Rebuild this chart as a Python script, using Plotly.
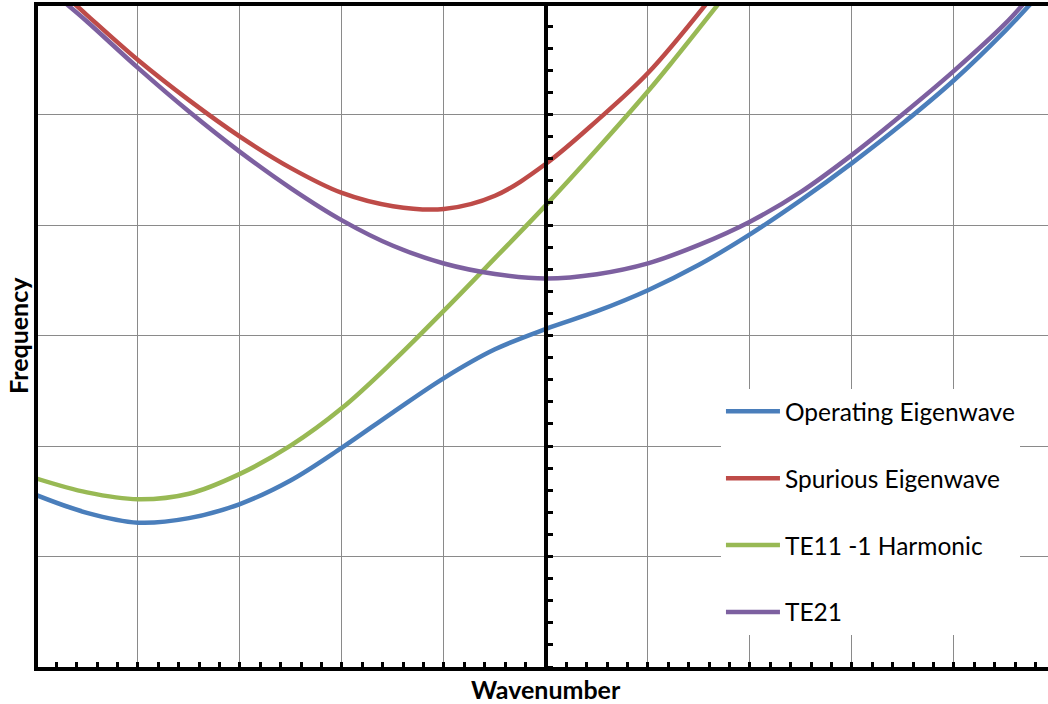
import plotly.graph_objects as go

# Dispersion branches: normalised wavenumber vs frequency
op_k = [-5, -4.5, -4, -3.5, -3, -2.5, -2, -1.5, -1, -0.5, 0, 0.5, 1, 1.5, 2, 2.5, 3, 3.5, 4, 4.5, 4.75]
op_f = [1.557, 1.395, 1.306, 1.347, 1.475, 1.69, 1.985, 2.305, 2.615, 2.875, 3.06, 3.22, 3.41, 3.64, 3.915, 4.225, 4.56, 4.92, 5.31, 5.755, 6.0]

sp_k = [-4.62, -4.5, -4, -3.5, -3, -2.5, -2, -1.5, -1, -0.5, 0, 0.5, 1, 1.57]
sp_f = [6.0, 5.90, 5.493, 5.13, 4.80, 4.515, 4.29, 4.17, 4.145, 4.265, 4.555, 4.945, 5.375, 6.0]

te11_k = [-5, -4.5, -4, -3.5, -3, -2.5, -2, -1.5, -1, -0.5, 0, 0.5, 1, 1.25, 1.69]
te11_f = [1.707, 1.58, 1.518, 1.568, 1.748, 2.005, 2.343, 2.765, 3.225, 3.70, 4.18, 4.685, 5.21, 5.49, 6.0]

te21_k = [-4.70, -4.5, -4, -3.5, -3, -2.5, -2, -1.5, -1, -0.5, 0, 0.5, 1, 1.5, 2, 2.5, 3, 3.5, 4, 4.5, 4.68]
te21_f = [6.0, 5.842, 5.422, 5.027, 4.662, 4.332, 4.042, 3.812, 3.652, 3.557, 3.517, 3.555, 3.653, 3.82, 4.03, 4.30, 4.635, 5.005, 5.395, 5.82, 6.0]

series = [
    ("Operating Eigenwave", op_k, op_f, "#4A7EBB"),
    ("Spurious Eigenwave", sp_k, sp_f, "#BE4B48"),
    ("TE11 -1 Harmonic", te11_k, te11_f, "#98B954"),
    ("TE21", te21_k, te21_f, "#7D60A0"),
]

fig = go.Figure()
for name, k, f, color in series:
    fig.add_trace(go.Scatter(
        x=k, y=f, mode="lines", name=name, legendgroup=name,
        line=dict(color=color, width=4.5, shape="spline", smoothing=1.0),
    ))

# empty trace so the centre axis (k = 0) gets drawn
fig.add_trace(go.Scatter(x=[None], y=[None], yaxis="y2", showlegend=False, hoverinfo="skip"))

x_min, x_max = -4.980, 4.922
y_min, y_max = 0, 5.982
grid = "#8A8A8A"

fig.update_layout(
    width=1048, height=704,
    margin=dict(l=38, r=0, t=6, b=37),
    paper_bgcolor="white", plot_bgcolor="white",
    font=dict(family="Lato", color="black"),
    xaxis=dict(
        range=[x_min, x_max], tick0=0, dtick=1,
        showgrid=True, gridcolor=grid, gridwidth=1.4,
        showline=True, linecolor="black", linewidth=3.5, mirror=True,
        ticks="inside", ticklen=5, tickwidth=2.5, tickcolor="black",
        minor=dict(dtick=0.2, tick0=0, ticks="inside", ticklen=5, tickwidth=2.5,
                   tickcolor="black", showgrid=False),
        showticklabels=False, zeroline=False,
    ),
    yaxis=dict(
        range=[y_min, y_max], dtick=1, tick0=0,
        showgrid=True, gridcolor=grid, gridwidth=1.4,
        showline=True, linecolor="black", linewidth=3.5, mirror=False,
        ticks="", showticklabels=False, zeroline=False,
    ),
    yaxis2=dict(
        overlaying="y", anchor="free", side="right",
        position=(0 - x_min) / (x_max - x_min),
        range=[y_min, y_max], tick0=0, dtick=0.2,
        showgrid=False, showline=True, linecolor="black", linewidth=3.5,
        ticks="outside", ticklen=5, tickwidth=2.5, tickcolor="black",
        showticklabels=False, zeroline=False,
    ),
    legend=dict(
        x=0.6762, xanchor="left", y=0.4207, yanchor="top",
        bgcolor="white", borderwidth=0,
        font=dict(family="Lato", size=24.5, color="black"),
        itemwidth=54, tracegroupgap=32, traceorder="grouped",
    ),
    showlegend=True,
    annotations=[
        dict(text="Wavenumber", xref="paper", yref="paper", x=0.503, y=-0.0333,
             xanchor="center", yanchor="middle", showarrow=False,
             font=dict(family="Lato", size=25, weight="bold", color="black")),
        dict(text="Frequency", xref="paper", yref="paper", x=-0.0198, y=0.5008,
             xanchor="center", yanchor="middle", showarrow=False, textangle=-90,
             font=dict(family="Lato", size=25, weight="bold", color="black")),
    ],
)

fig.write_html("out.html")
